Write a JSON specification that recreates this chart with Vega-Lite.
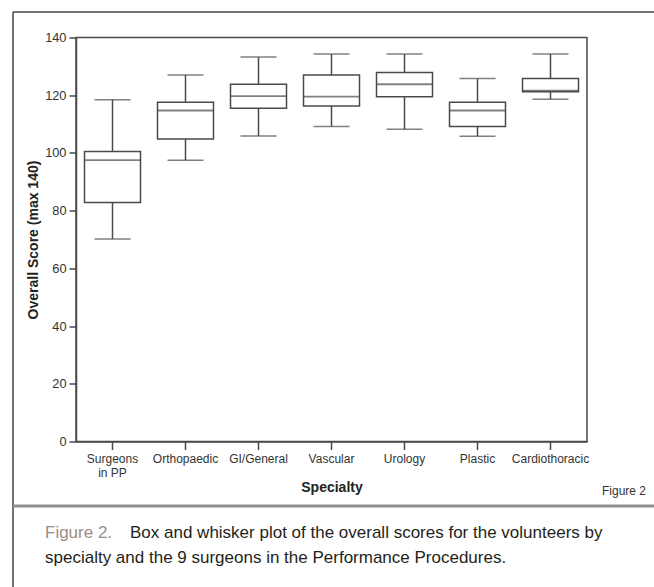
{
  "$schema": "https://vega.github.io/schema/vega-lite/v6.json",
  "width": 511,
  "height": 404,
  "autosize": "none",
  "padding": {"left": 76, "top": 37.5, "right": 67, "bottom": 145.5},
  "background": "white",
  "config": {
    "view": {"stroke": "#4a4a4a", "strokeWidth": 1.5},
    "axis": {
      "domainColor": "#4a4a4a", "domainWidth": 1.5,
      "tickColor": "#4a4a4a", "tickWidth": 1.5,
      "labelColor": "#333333", "titleColor": "#222222",
      "labelFont": "Liberation Sans", "titleFont": "Liberation Sans",
      "grid": false
    },
    "text": {"font": "Liberation Sans"}
  },
  "layer": [
    {
      "data": {"values": [
        {"specialty": "Surgeons in PP", "min": 70.2, "q1": 82.8, "median": 97.5, "q3": 100.5, "max": 118.4},
        {"specialty": "Orthopaedic", "min": 97.5, "q1": 104.8, "median": 114.7, "q3": 117.6, "max": 127.0},
        {"specialty": "GI/General", "min": 105.9, "q1": 115.5, "median": 119.7, "q3": 123.8, "max": 133.2},
        {"specialty": "Vascular", "min": 109.2, "q1": 116.3, "median": 119.5, "q3": 127.0, "max": 134.3},
        {"specialty": "Urology", "min": 108.2, "q1": 119.5, "median": 123.8, "q3": 127.9, "max": 134.3},
        {"specialty": "Plastic", "min": 105.8, "q1": 109.2, "median": 114.7, "q3": 117.6, "max": 125.8},
        {"specialty": "Cardiothoracic", "min": 118.6, "q1": 121.2, "median": 121.6, "q3": 125.8, "max": 134.3}
      ]},
      "encoding": {
        "x": {
          "field": "specialty", "type": "nominal", "sort": null,
          "scale": {"paddingInner": 0, "paddingOuter": 0},
          "axis": {
            "title": "Specialty", "labelAngle": 0, "labelFontSize": 12, "labelLineHeight": 13.5,
            "labelPadding": 4, "tickSize": 8, "titleFontSize": 14, "titleFontWeight": "bold",
            "titlePadding": 2, "labelOverlap": false, "labelLimit": 200,
            "labelExpr": "datum.label == 'Surgeons in PP' ? ['Surgeons', 'in PP'] : datum.label"
          }
        }
      },
      "layer": [
        {
          "mark": {"type": "rule", "color": "#4a4a4a", "strokeWidth": 1.5},
          "encoding": {
            "y": {"field": "min", "type": "quantitative", "scale": {"domain": [0, 140], "nice": false},
                  "axis": {"title": "Overall Score (max 140)", "values": [0, 20, 40, 60, 80, 100, 120, 140],
                           "tickSize": 7, "labelPadding": 3, "labelFontSize": 12.8, "titleFontSize": 14,
                           "titleFontWeight": "bold", "titlePadding": 4}},
            "y2": {"field": "max"}
          }
        },
        {
          "mark": {"type": "bar", "fill": "white", "stroke": "#4a4a4a", "strokeWidth": 1.5, "size": 56},
          "encoding": {
            "y": {"field": "q1", "type": "quantitative", "title": "Overall Score (max 140)"},
            "y2": {"field": "q3"}
          }
        },
        {
          "mark": {"type": "tick", "color": "#4a4a4a", "size": 36, "thickness": 1.5},
          "encoding": {"y": {"field": "min", "type": "quantitative", "title": "Overall Score (max 140)"}}
        },
        {
          "mark": {"type": "tick", "color": "#4a4a4a", "size": 36, "thickness": 1.5},
          "encoding": {"y": {"field": "max", "type": "quantitative", "title": "Overall Score (max 140)"}}
        },
        {
          "mark": {"type": "tick", "color": "#4a4a4a", "size": 56, "thickness": 1.8},
          "encoding": {"y": {"field": "median", "type": "quantitative", "title": "Overall Score (max 140)"}}
        }
      ]
    },
    {
      "data": {"values": [{"note": "frame"}]},
      "layer": [
        {
          "mark": {"type": "rule", "color": "#444444", "strokeWidth": 1.5},
          "encoding": {
            "x": {"datum": -63, "type": "quantitative", "scale": {"domain": [0, 511], "nice": false, "zero": false}, "axis": null},
            "x2": {"datum": 578},
            "y": {"datum": -25.5, "type": "quantitative", "scale": {"domain": [0, 404], "nice": false, "zero": false, "reverse": true}, "axis": null}
          }
        },
        {
          "mark": {"type": "rule", "color": "#444444", "strokeWidth": 1.5},
          "encoding": {
            "x": {"datum": -63, "type": "quantitative", "axis": null},
            "y": {"datum": -25.5, "type": "quantitative", "axis": null},
            "y2": {"datum": 549.5}
          }
        },
        {
          "mark": {"type": "rule", "color": "#8f8f8f", "strokeWidth": 3},
          "encoding": {
            "x": {"datum": -63, "type": "quantitative", "axis": null},
            "x2": {"datum": 578},
            "y": {"datum": 468.5, "type": "quantitative", "axis": null}
          }
        },
        {
          "data": {"values": [{"caption": "Figure 2"}]},
          "mark": {"type": "text", "align": "right", "baseline": "alphabetic", "fontSize": 12, "color": "#333333"},
          "encoding": {
            "text": {"field": "caption"},
            "x": {"datum": 570, "type": "quantitative", "axis": null},
            "y": {"datum": 457.5, "type": "quantitative", "axis": null}
          }
        },
        {
          "data": {"values": [{"caption": "Figure 2."}]},
          "mark": {"type": "text", "align": "left", "baseline": "alphabetic", "fontSize": 17, "color": "#9e8d85"},
          "encoding": {
            "text": {"field": "caption"},
            "x": {"datum": -31, "type": "quantitative", "axis": null},
            "y": {"datum": 500.5, "type": "quantitative", "axis": null}
          }
        },
        {
          "data": {"values": [{"caption": "Box and whisker plot of the overall scores for the volunteers by"}]},
          "mark": {"type": "text", "align": "left", "baseline": "alphabetic", "fontSize": 17, "color": "#231f20"},
          "encoding": {
            "text": {"field": "caption"},
            "x": {"datum": 54, "type": "quantitative", "axis": null},
            "y": {"datum": 500.5, "type": "quantitative", "axis": null}
          }
        },
        {
          "data": {"values": [{"caption": "specialty and the 9 surgeons in the Performance Procedures."}]},
          "mark": {"type": "text", "align": "left", "baseline": "alphabetic", "fontSize": 17, "color": "#231f20"},
          "encoding": {
            "text": {"field": "caption"},
            "x": {"datum": -31, "type": "quantitative", "axis": null},
            "y": {"datum": 525, "type": "quantitative", "axis": null}
          }
        }
      ]
    }
  ],
  "resolve": {"scale": {"x": "independent", "y": "independent"}}
}
